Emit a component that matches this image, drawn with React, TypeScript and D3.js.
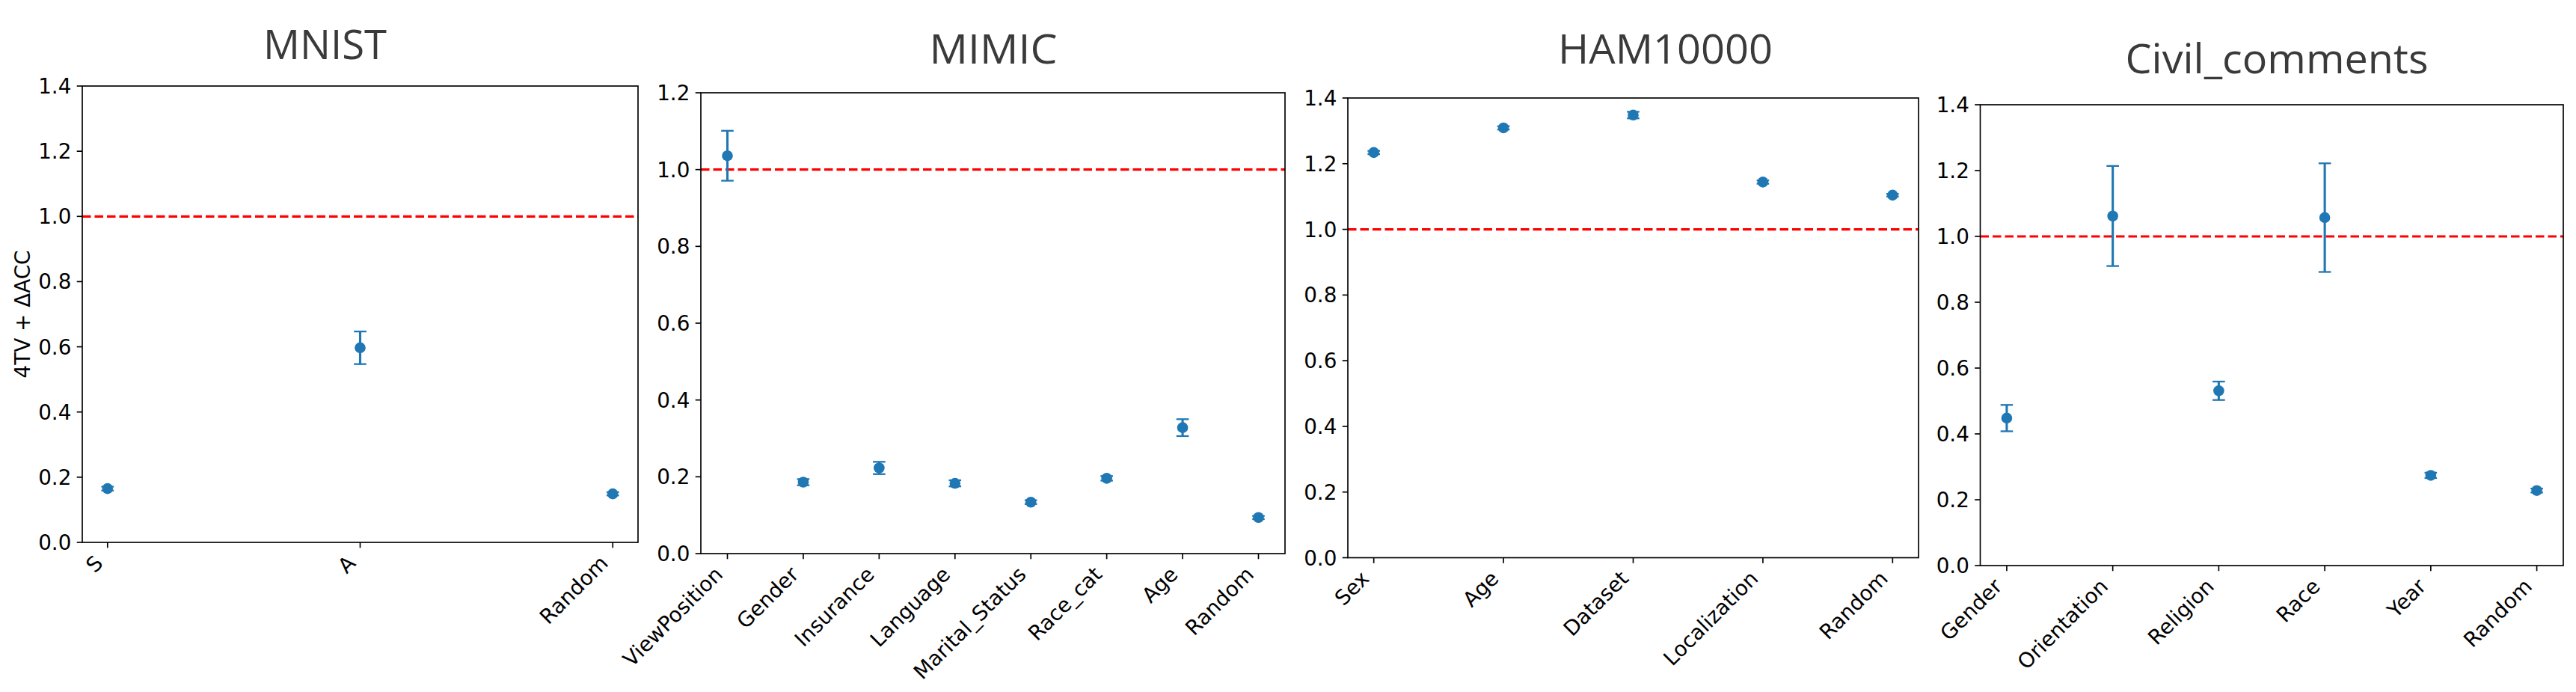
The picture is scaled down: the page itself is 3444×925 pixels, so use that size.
import React from "react";
import * as d3 from "d3";

// ---------- data ----------
const mnistCats = ["S", "A", "Random"];
const mnistVals = [0.165, 0.597, 0.149];
const mnistErr = [0.006, 0.05, 0.005];

const mimicCats = ["ViewPosition", "Gender", "Insurance", "Language", "Marital_Status", "Race_cat", "Age", "Random"];
const mimicVals = [1.036, 0.186, 0.223, 0.183, 0.134, 0.196, 0.328, 0.094];
const mimicErr = [0.065, 0.008, 0.016, 0.008, 0.005, 0.006, 0.022, 0.004];

const hamCats = ["Sex", "Age", "Dataset", "Localization", "Random"];
const hamVals = [1.234, 1.309, 1.348, 1.144, 1.104];
const hamErr = [0.005, 0.005, 0.01, 0.005, 0.004];

const civilCats = ["Gender", "Orientation", "Religion", "Race", "Year", "Random"];
const civilVals = [0.448, 1.062, 0.531, 1.057, 0.274, 0.228];
const civilErr = [0.04, 0.152, 0.028, 0.165, 0.008, 0.006];

const titles = ["MNIST", "MIMIC", "HAM10000", "Civil_comments"];
const yMaxes = [1.4, 1.2, 1.4, 1.4];
const refLine = 1.0;
const yLabel = "4TV + ΔACC";

// ---------- layout ----------
const W = 3444;
const H = 925;
const boxes = [
  { l: 110, r: 853, t: 115, b: 725 },
  { l: 937, r: 1718, t: 124, b: 740 },
  { l: 1802, r: 2565, t: 131, b: 745.5 },
  { l: 2647.5, r: 3427, t: 140, b: 756 },
];
const titlePos = [
  { x: 434.5, y: 78.7, len: 165 },
  { x: 1328, y: 84.6, len: 171 },
  { x: 2226.5, y: 84.6, len: 287 },
  { x: 3044, y: 97.6, len: 405 },
];

const BLUE = "#1f77b4";
const FS = 27.8;
const TICK = 7.3;
const PAD = 7.3;
const SPINE = 1.67;

function Panel({ idx, cats, vals, errs }: { idx: number; cats: string[]; vals: number[]; errs: number[] }) {
  const bx = boxes[idx];
  const n = cats.length;
  const x = d3.scalePoint<string>().domain(cats).range([bx.l, bx.r]).padding(0.05 * (n - 1));
  const y = d3.scaleLinear().domain([0, yMaxes[idx]]).range([bx.b, bx.t]);
  const yTicks = d3.range(0, yMaxes[idx] + 1e-9, 0.2);
  const fmt = d3.format(".1f");
  const tp = titlePos[idx];
  return (
    <g>
      <text
        x={tp.x}
        y={tp.y}
        textAnchor="middle"
        fontFamily="'Open Sans', sans-serif"
        fontSize={54}
        fill="#3a3a3a"
        textLength={tp.len}
        lengthAdjust="spacingAndGlyphs"
      >
        {titles[idx]}
      </text>
      <line
        x1={bx.l}
        x2={bx.r}
        y1={y(refLine)}
        y2={y(refLine)}
        stroke="#ff0000"
        strokeWidth={3.2}
        strokeDasharray="11.5,5"
      />
      {cats.map((c, i) => {
        const cx = x(c) as number;
        const y1 = y(vals[i] + errs[i]);
        const y0 = y(vals[i] - errs[i]);
        return (
          <g key={c}>
            <line x1={cx} x2={cx} y1={y1} y2={y0} stroke={BLUE} strokeWidth={3.1} />
            <line x1={cx - 8.3} x2={cx + 8.3} y1={y1} y2={y1} stroke={BLUE} strokeWidth={2.3} />
            <line x1={cx - 8.3} x2={cx + 8.3} y1={y0} y2={y0} stroke={BLUE} strokeWidth={2.3} />
            <circle cx={cx} cy={y(vals[i])} r={7.3} fill={BLUE} />
          </g>
        );
      })}
      <rect x={bx.l} y={bx.t} width={bx.r - bx.l} height={bx.b - bx.t} fill="none" stroke="#000" strokeWidth={SPINE} />
      {yTicks.map((v) => (
        <g key={v}>
          <line x1={bx.l - TICK} x2={bx.l} y1={y(v)} y2={y(v)} stroke="#000" strokeWidth={SPINE} />
          <text
            x={bx.l - TICK - PAD}
            y={y(v)}
            dy="0.36em"
            textAnchor="end"
            fontFamily="'DejaVu Sans', sans-serif"
            fontSize={FS}
            fill="#000"
          >
            {fmt(v)}
          </text>
        </g>
      ))}
      {cats.map((c) => {
        const cx = x(c) as number;
        const px = cx - 0.707 * 0.236 * FS;
        const py = bx.b + TICK + PAD + 0.707 * 0.76 * FS;
        return (
          <g key={c}>
            <line x1={cx} x2={cx} y1={bx.b} y2={bx.b + TICK} stroke="#000" strokeWidth={SPINE} />
            <text
              transform={`translate(${px},${py}) rotate(-45)`}
              textAnchor="end"
              fontFamily="'DejaVu Sans', sans-serif"
              fontSize={FS}
              fill="#000"
            >
              {c}
            </text>
          </g>
        );
      })}
      {idx === 0 && (
        <text
          transform={`translate(40,${(bx.t + bx.b) / 2}) rotate(-90)`}
          textAnchor="middle"
          fontFamily="'DejaVu Sans', sans-serif"
          fontSize={FS}
          fill="#000"
        >
          {yLabel}
        </text>
      )}
    </g>
  );
}

export default function App() {
  React.useEffect(() => {
    document.body.style.margin = "0";
  }, []);
  return (
    <div style={{ position: "absolute", left: 0, top: 0 }}>
      <svg width={W} height={H} viewBox={`0 0 ${W} ${H}`} style={{ display: "block", background: "#fff" }}>
        <rect x={0} y={0} width={W} height={H} fill="#fff" />
        <Panel idx={0} cats={mnistCats} vals={mnistVals} errs={mnistErr} />
        <Panel idx={1} cats={mimicCats} vals={mimicVals} errs={mimicErr} />
        <Panel idx={2} cats={hamCats} vals={hamVals} errs={hamErr} />
        <Panel idx={3} cats={civilCats} vals={civilVals} errs={civilErr} />
      </svg>
    </div>
  );
}
